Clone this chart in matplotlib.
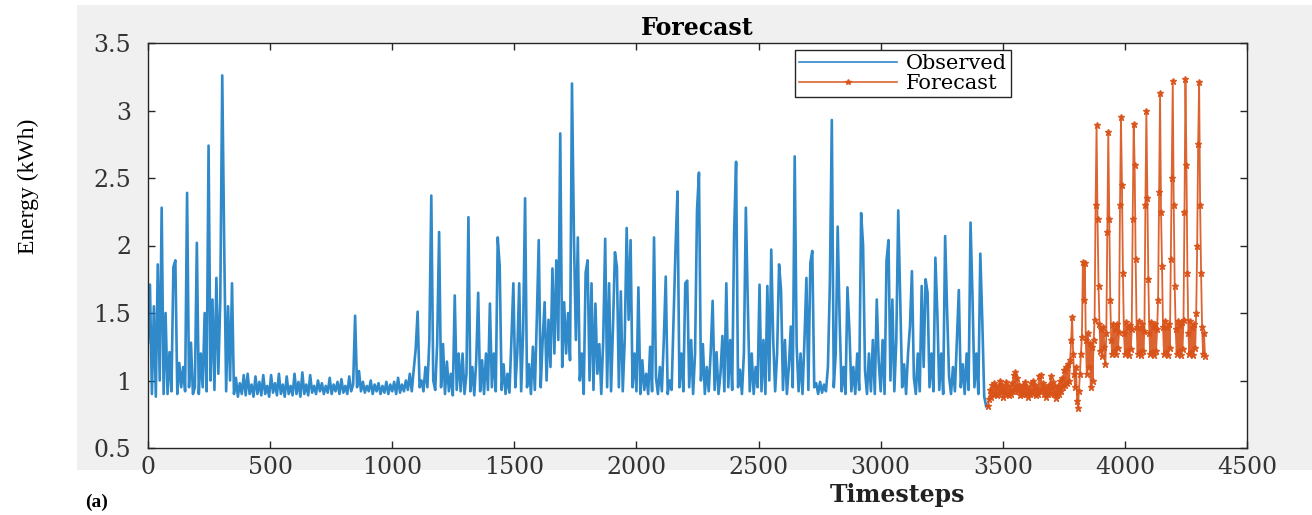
import matplotlib
matplotlib.use("Agg")
import matplotlib.pyplot as plt
from matplotlib.patches import Rectangle
from matplotlib.ticker import FuncFormatter
import numpy as np

obs_step = 8
observed = [
    1.28, 1.71, 0.90, 1.55, 0.88, 1.86, 1.00, 2.28, 0.90, 1.50,
    0.90, 1.21, 0.92, 1.84, 1.89, 0.90, 1.13, 0.95, 1.10, 0.92,
    2.39, 0.95, 1.28, 0.90, 0.95, 2.02, 0.90, 1.20, 0.95, 1.50,
    0.92, 2.74, 1.00, 1.60, 0.93, 1.76, 1.05, 1.60, 3.26, 2.00,
    0.92, 1.55, 1.00, 1.72, 0.90, 1.02, 0.88, 0.98, 0.90, 1.04,
    0.89, 1.05, 0.90, 0.97, 0.88, 1.03, 0.90, 0.99, 0.89, 1.04,
    0.90, 0.96, 0.88, 1.04, 0.91, 0.98, 0.89, 1.05, 0.90, 0.97,
    0.88, 1.03, 0.90, 0.96, 0.89, 1.05, 0.90, 0.99, 0.88, 1.06,
    0.90, 0.97, 0.89, 1.04, 0.91, 0.96, 0.90, 1.00, 0.92, 0.98,
    0.90, 0.96, 0.91, 1.02, 0.90, 0.97, 0.92, 0.99, 0.90, 1.01,
    0.91, 0.96, 0.90, 1.03, 0.92, 0.97, 1.48, 0.95, 1.07, 0.92,
    0.99, 0.91, 0.96, 0.92, 1.00, 0.90, 0.97, 0.92, 0.98, 0.90,
    0.96, 0.91, 0.99, 0.90, 0.97, 0.92, 0.99, 0.90, 1.02, 0.91,
    0.97, 0.92, 1.00, 0.93, 1.05, 0.92, 1.08, 1.23, 1.51, 0.95,
    1.00, 0.92, 1.10, 0.95, 1.30, 2.37, 1.00, 0.93, 1.27, 2.10,
    0.95, 1.27, 0.90, 1.14, 0.92, 1.05, 0.89, 1.63, 0.93, 1.20,
    0.92, 1.20, 0.90, 1.05, 2.21, 0.92, 1.10, 0.89, 1.15, 1.65,
    0.92, 1.15, 0.90, 1.20, 0.93, 1.57, 0.95, 1.20, 0.92, 2.06,
    1.85, 0.93, 1.12, 0.90, 1.05, 0.91, 1.30, 1.72, 0.95, 1.20,
    1.72, 0.92, 1.36, 2.35, 0.95, 1.12, 0.90, 1.25, 0.93, 1.45,
    2.04, 0.95, 1.30, 1.58, 1.00, 1.45, 1.10, 1.83, 1.20, 1.89,
    1.30, 2.83, 1.10, 1.58, 1.20, 1.50, 1.15, 3.20, 2.07, 1.30,
    2.06, 1.00, 1.20, 0.90, 1.80, 1.89, 1.00, 1.72, 0.93, 1.57,
    1.05, 1.27, 0.90, 1.30, 2.05, 0.95, 1.72, 0.92, 1.40, 1.95,
    1.84, 0.95, 1.66, 0.92, 1.30, 2.13, 1.45, 2.04, 0.95, 1.20,
    0.92, 1.69, 0.90, 1.15, 0.93, 1.05, 0.90, 1.25, 0.92, 2.06,
    1.02, 0.90, 1.10, 0.92, 1.30, 1.77, 0.90, 1.00, 0.93, 1.45,
    1.98, 2.40, 0.95, 1.20, 0.92, 1.72, 1.74, 0.95, 1.30, 0.90,
    1.20, 2.26, 2.54, 1.00, 1.27, 0.90, 1.10, 0.92, 1.21, 1.59,
    0.93, 1.21, 0.90, 1.05, 1.33, 0.92, 1.72, 0.95, 1.30, 0.93,
    2.10, 2.62, 0.95, 1.08, 0.90, 1.20, 2.28, 1.57, 0.92, 1.20,
    0.90, 1.10, 0.95, 1.71, 0.92, 1.30, 0.90, 1.70, 1.00, 1.97,
    1.30, 0.92, 1.20, 1.86, 1.67, 0.93, 1.30, 0.90, 1.10, 1.40,
    0.95, 2.66, 1.26, 0.92, 1.20, 0.90, 1.30, 1.76, 0.93, 1.87,
    1.96, 0.95, 0.98, 0.90, 0.99, 0.91, 0.97, 0.92, 1.10, 1.72,
    2.93, 0.95, 1.20, 2.14, 1.45, 0.92, 1.10, 0.90, 1.69, 1.37,
    0.92, 1.10, 0.90, 1.20, 0.93, 2.24, 2.00, 1.07, 0.90, 1.20,
    0.92, 1.30, 0.90, 1.60, 1.14, 0.92, 1.30, 0.90, 1.89, 2.04,
    1.00, 1.60, 0.92, 1.30, 2.26, 1.60, 0.95, 1.12, 0.90, 1.20,
    1.40, 1.81, 1.02, 0.90, 1.20, 0.92, 1.70, 1.10, 1.75, 1.65,
    0.95, 1.20, 0.92, 1.91, 1.50, 0.93, 1.20, 0.90, 2.07, 1.52,
    1.03, 0.90, 1.10, 0.92, 1.30, 1.67, 0.95, 1.12, 0.90, 1.20,
    0.93, 2.17, 1.62, 0.95, 1.20, 0.90, 1.94, 1.45, 0.88, 0.81,
]

# 预测序列：从 3440 开始，每 4 个时间步一个值
fc_start = 3440
fc_step = 4
forecast = [
    0.81, 0.86, 0.93, 0.88, 0.97, 0.90, 0.98, 0.91, 0.96, 0.89,
    0.95, 0.90, 1.00, 0.92, 0.97, 0.88, 0.94, 0.91, 0.99, 0.90,
    0.96, 0.89, 0.93, 0.90, 0.98, 0.92, 1.04, 0.93, 1.06, 0.95,
    1.02, 0.92, 0.97, 0.89, 0.94, 0.90, 0.97, 0.91, 0.99, 0.90,
    0.95, 0.88, 0.93, 0.90, 0.98, 0.91, 1.00, 0.93, 0.97, 0.89,
    0.94, 0.90, 1.03, 0.92, 1.04, 0.93, 0.98, 0.90, 0.95, 0.88,
    0.93, 0.90, 0.97, 0.91, 1.03, 0.94, 0.99, 0.90, 0.96, 0.87,
    0.92, 0.89, 0.96, 0.90, 1.00, 0.92, 1.02, 0.95, 1.08, 0.97,
    1.10, 0.98, 1.12, 1.00, 1.15,
    1.30, 1.47, 1.20, 1.05, 0.95, 1.10, 0.85, 0.80, 0.92, 1.05,
    1.20, 1.32, 1.88, 1.60, 1.87, 1.30, 1.05, 1.35, 1.10, 1.28,
    0.95, 1.25, 1.00, 1.30, 1.45,
    2.30, 2.89, 2.20, 1.70, 1.42, 1.22, 1.38, 1.18, 1.40, 1.25, 1.12, 1.35, 2.10,
    2.84, 2.20, 1.60, 1.30, 1.20, 1.42, 1.22, 1.38, 1.20, 1.42, 1.24, 1.36, 2.30,
    2.95, 2.45, 1.80, 1.35, 1.20, 1.43, 1.22, 1.40, 1.19, 1.41, 1.23, 1.38, 2.20,
    2.90, 2.60, 1.90, 1.40, 1.20, 1.44, 1.21, 1.39, 1.19, 1.42, 1.22, 1.37, 2.30,
    3.00, 2.35, 1.75, 1.35, 1.20, 1.43, 1.21, 1.40, 1.19, 1.42, 1.22, 1.38, 1.60,
    2.40, 3.13, 2.25, 1.85, 1.40, 1.20, 1.44, 1.21, 1.40, 1.19, 1.42, 1.24, 1.90,
    2.50, 3.22, 2.30, 1.70, 1.38, 1.20, 1.44, 1.22, 1.41, 1.19, 1.43, 1.23, 1.45,
    2.25, 3.23, 2.60, 1.80, 1.35, 1.20, 1.44, 1.21, 1.40, 1.19, 1.42, 1.24, 1.50,
    2.00, 2.75, 3.21, 2.30, 1.80, 1.40, 1.20, 1.35, 1.18,
]

x_ticks = [0, 500, 1000, 1500, 2000, 2500, 3000, 3500, 4000, 4500]
y_ticks = [0.5, 1.0, 1.5, 2.0, 2.5, 3.0, 3.5]

W, H = 1312, 515
fig = plt.figure(figsize=(W / 100, H / 100), dpi=100)
fig.patch.set_facecolor("white")

# MATLAB 风格的灰色底框
fig.patches.append(Rectangle((77 / W, 1 - 470 / H), 1 - 77 / W, 465 / H,
                             transform=fig.transFigure, facecolor="#F0F0F0",
                             edgecolor="none", zorder=-10))

ax = fig.add_axes([148 / W, 1 - 448 / H, (1247 - 148) / W, (448 - 43) / H])
ax.set_facecolor("white")

t_obs = np.arange(len(observed)) * obs_step
t_fc = fc_start + np.arange(len(forecast)) * fc_step

ax.plot(t_obs, observed, color="#0B74C0", linewidth=1.9, alpha=0.85, label="Observed")
ax.plot([t_obs[-1], t_fc[0]], [observed[-1], forecast[0]], color="#0B74C0", linewidth=1.6)
ax.plot(t_fc, forecast, color="#D95319", linewidth=1.3, alpha=0.9, marker="*",
        markersize=4.5, label="Forecast")

ax.set_xlim(0, 4500)
ax.set_ylim(0.5, 3.5)
ax.set_xticks(x_ticks)
ax.set_yticks(y_ticks)
ax.yaxis.set_major_formatter(FuncFormatter(lambda v, p: f"{v:g}"))

serif = ["DejaVu Serif"]
ax.tick_params(direction="in", length=5, width=1, colors="#262626",
               top=True, right=True, labelsize=17)
ax.tick_params(axis="x", pad=6)
ax.tick_params(axis="y", pad=12)
for lab in ax.get_xticklabels() + ax.get_yticklabels():
    lab.set_family(serif)
    lab.set_color("#333333")
for sp in ax.spines.values():
    sp.set_color("#262626")
    sp.set_linewidth(1.0)

ax.set_title("Forecast", family=serif, fontsize=17, fontweight="bold", pad=6)

fig.text(897 / W, 1 - 495 / H, "Timesteps", family=serif, fontsize=17,
         fontweight="bold", ha="center", va="center", color="#222222")
fig.text(28 / W, 1 - 186 / H, "Energy (kWh)", family=["Liberation Serif"],
         fontsize=17, rotation=90, ha="center", va="center")
fig.text(85 / W, 1 - 502 / H, "(a)", family=["Liberation Serif"], fontsize=14,
         fontweight="bold", ha="left", va="center")

leg = ax.legend(loc="upper left", bbox_to_anchor=((795 - 148) / 1099, (448 - 50) / 405),
                fancybox=False, framealpha=1, edgecolor="#262626",
                prop={"family": "DejaVu Serif", "size": 15}, handlelength=4.7,
                handletextpad=0.4, labelspacing=0.05, borderpad=0.2,
                borderaxespad=0, numpoints=1)
leg.get_frame().set_linewidth(1.0)
for h in leg.legend_handles:
    h.set_linewidth(1.2)
    h.set_markersize(4)

fig.savefig("out.png", dpi=100, facecolor="white")
